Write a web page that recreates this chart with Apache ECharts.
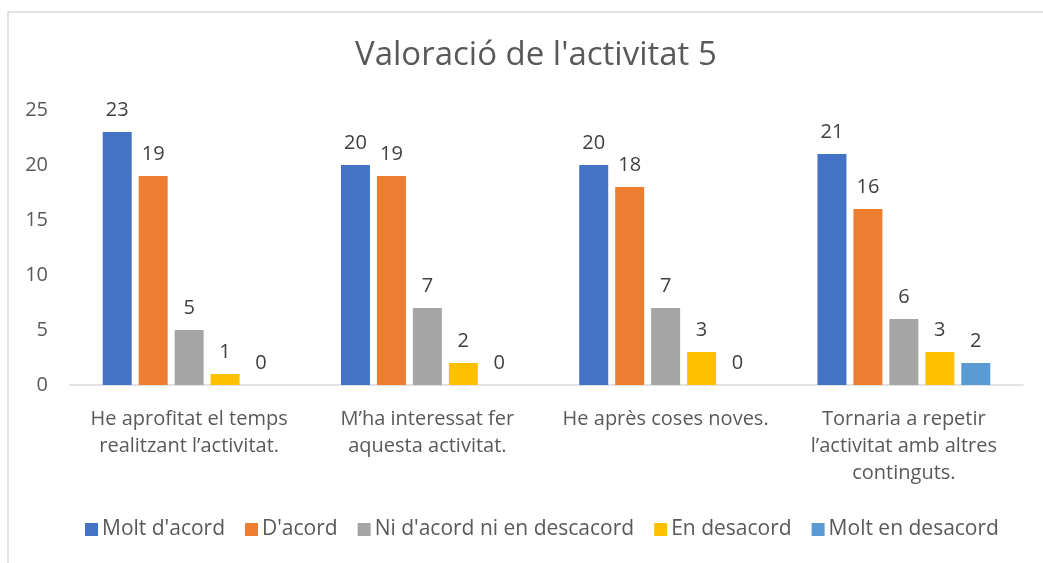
<!DOCTYPE html>
<html>
<head>
<meta charset="utf-8">
<script src="https://cdn.jsdelivr.net/npm/echarts@6/dist/echarts.min.js"></script>
<style>
  html, body { margin: 0; padding: 0; background: #fff; }
  #chart { width: 1043px; height: 563px; }
</style>
</head>
<body>
<div id="chart"></div>
<script>
// categories (x axis)
var categories = [
  'He aprofitat el temps\nrealitzant l\u2019activitat.',
  'M\u2019ha interessat fer\naquesta activitat.',
  'He apr\u00e8s coses noves.',
  'Tornaria a repetir\nl\u2019activitat amb altres\ncontinguts.'
];
var seriesNames = ["Molt d'acord", "D'acord", "Ni d'acord ni en descacord", 'En desacord', 'Molt en desacord'];
var moltDacord = [23, 20, 20, 21];
var dacord = [19, 19, 18, 16];
var niDacord = [5, 7, 7, 6];
var enDesacord = [1, 2, 3, 3];
var moltEnDesacord = [0, 0, 0, 2];
var colors = ['#4472c4', '#ed7d31', '#a5a5a5', '#ffc000', '#5b9bd5'];

var font = 'Open Sans, Noto Sans, sans-serif';
var values = [moltDacord, dacord, niDacord, enDesacord, moltEnDesacord];

var chart = echarts.init(document.getElementById('chart'));
chart.setOption({
  animation: false,
  color: colors,
  title: {
    text: "Valoraci\u00f3 de l'activitat 5",
    left: 350,
    top: 34,
    textStyle: { fontFamily: font, fontSize: 33, fontWeight: 'normal', color: '#595959' }
  },
  legend: {
    bottom: 18,
    left: 80,
    icon: 'rect',
    itemWidth: 13,
    itemHeight: 13,
    itemGap: 20,
    textStyle: { fontFamily: font, fontSize: 21, color: '#595959', padding: [0, 0, 0, -1] },
    data: seriesNames
  },
  grid: { left: 70, right: 20, top: 110, bottom: 178 },
  xAxis: {
    type: 'category',
    data: categories,
    axisLine: { lineStyle: { color: '#d9d9d9', width: 1.5 } },
    axisTick: { show: false },
    axisLabel: { interval: 0, fontFamily: font, fontSize: 20, color: '#595959', lineHeight: 27, margin: 21 }
  },
  yAxis: {
    type: 'value',
    min: 0,
    max: 25,
    interval: 5,
    axisLine: { show: false },
    axisTick: { show: false },
    splitLine: { show: false },
    axisLabel: { fontFamily: font, fontSize: 20, color: '#595959', margin: 22 }
  },
  graphic: [{
    type: 'polyline',
    silent: true,
    shape: { points: [[8, 563], [8, 12], [1043, 12]] },
    style: { stroke: '#d9d9d9', fill: null, lineWidth: 1.5 }
  }],
  series: seriesNames.map(function (name, i) {
    return {
      name: name,
      type: 'bar',
      data: values[i],
      barWidth: 29,
      barGap: '24%',
      label: {
        show: true,
        position: 'top',
        distance: 12,
        fontFamily: font,
        fontSize: 20,
        color: '#404040'
      }
    };
  })
});
</script>
</body>
</html>
